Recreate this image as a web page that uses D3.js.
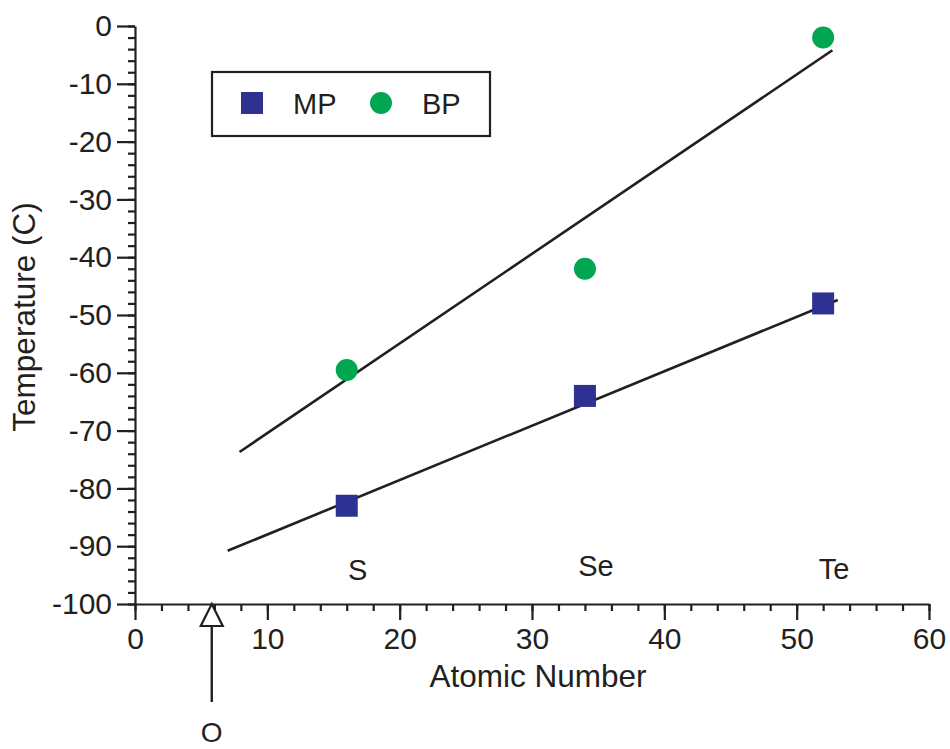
<!DOCTYPE html>
<html>
<head>
<meta charset="utf-8">
<script src="https://cdn.jsdelivr.net/npm/d3@7"></script>
<style>
    body { margin: 0; background: #fff; }
    svg text { font-family: "Liberation Sans", Arial, Helvetica, sans-serif; fill: #231f20; }
    .axis path, .axis line { stroke: #231f20; stroke-width: 2.2; }
    .axis text { font-size: 30px; }
</style>
</head>
<body>
<div id="chart"></div>
<script>
// values
const elements = ['S', 'Se', 'Te'];
const atomicNumbers = [16, 34, 52];
const meltingPoints = [-83, -64, -48];
const boilingPoints = [-59.5, -42, -2];
// fitted lines, end points as drawn
const mpFit = [{ x: 7, y: -90.8 }, { x: 53.1, y: -47.4 }];
const bpFit = [{ x: 7.9, y: -73.7 }, { x: 52.7, y: -4.2 }];
const xTicks = [0, 10, 20, 30, 40, 50, 60];
const yTicks = [0, -10, -20, -30, -40, -50, -60, -70, -80, -90, -100];
const labelLevel = [-95.8, -95.1, -95.6];
const oxygenAt = 5.8;

const width = 950, height = 749;
const blue = '#2e3192', green = '#00a650', ink = '#231f20';

var svg = d3.select('#chart')
    .append('svg')
    .attr('width', width)
    .attr('height', height);

var xScale = d3.scaleLinear()
    .domain([0, 60])
    .range([135, 929]);

var yScale = d3.scaleLinear()
    .domain([-100, 0])
    .range([604, 26]);

// plain hyphen, not the unicode minus d3 uses
var plain = function (d) { return String(d) };

// minor ticks every 2 units
svg.append('g')
    .attr('class', 'axis')
    .attr('transform', 'translate(0,604)')
    .call(d3.axisBottom(xScale).tickValues(d3.range(0, 61, 2)).tickSize(7).tickFormat(''))
    .select('.domain').remove();

svg.append('g')
    .attr('class', 'axis')
    .attr('transform', 'translate(135,0)')
    .call(d3.axisLeft(yScale).tickValues(d3.range(-100, 1, 2)).tickSize(7).tickFormat(''))
    .select('.domain').remove();

// major ticks with labels
svg.append('g')
    .attr('class', 'axis')
    .attr('transform', 'translate(0,604)')
    .call(d3.axisBottom(xScale).tickValues(xTicks).tickSize(16).tickSizeOuter(0).tickPadding(8).tickFormat(plain));

svg.append('g')
    .attr('class', 'axis')
    .attr('transform', 'translate(135,0)')
    .call(d3.axisLeft(yScale).tickValues(yTicks).tickSize(18).tickSizeOuter(0).tickPadding(5).tickFormat(plain));

// axis titles
svg.append('text')
    .attr('x', 538)
    .attr('y', 687)
    .attr('text-anchor', 'middle')
    .style('font-size', '31.5px')
    .text('Atomic Number');

svg.append('text')
    .attr('transform', 'translate(35,317) rotate(-90)')
    .attr('text-anchor', 'middle')
    .style('font-size', '31.5px')
    .text('Temperature (C)');

// fit lines
var line = d3.line()
    .x(function (d) { return xScale(d.x) })
    .y(function (d) { return yScale(d.y) });

[mpFit, bpFit].forEach(function (fit) {
    svg.append('path')
        .datum(fit)
        .attr('fill', 'none')
        .attr('stroke', ink)
        .attr('stroke-width', 2.6)
        .attr('d', line);
});

// melting points
svg.selectAll('.mp')
    .data(atomicNumbers)
    .enter().append('rect')
    .attr('class', 'mp')
    .attr('x', function (d) { return xScale(d) - 11 })
    .attr('y', function (d, i) { return yScale(meltingPoints[i]) - 11 })
    .attr('width', 22)
    .attr('height', 22)
    .attr('fill', blue);

// boiling points
svg.selectAll('.bp')
    .data(atomicNumbers)
    .enter().append('circle')
    .attr('class', 'bp')
    .attr('cx', function (d) { return xScale(d) })
    .attr('cy', function (d, i) { return yScale(boilingPoints[i]) })
    .attr('r', 11)
    .attr('fill', green);

// element labels
svg.selectAll('.el')
    .data(elements)
    .enter().append('text')
    .attr('class', 'el')
    .attr('x', function (d, i) { return xScale(atomicNumbers[i]) + 11 })
    .attr('y', function (d, i) { return yScale(labelLevel[i]) })
    .attr('text-anchor', 'middle')
    .style('font-size', '29px')
    .text(function (d) { return d });

// oxygen arrow
var ox = xScale(oxygenAt);
svg.append('path')
    .attr('d', 'M' + ox + ',604 L' + (ox - 11) + ',626 L' + (ox + 11) + ',626 Z')
    .attr('fill', '#fff')
    .attr('stroke', ink)
    .attr('stroke-width', 2.2);
svg.append('line')
    .attr('x1', ox).attr('x2', ox)
    .attr('y1', 626).attr('y2', 702)
    .attr('stroke', ink)
    .attr('stroke-width', 2.4);
svg.append('text')
    .attr('x', ox)
    .attr('y', 742)
    .attr('text-anchor', 'middle')
    .style('font-size', '28px')
    .text('O');

// legend
var legend = svg.append('g');
legend.append('rect')
    .attr('x', 212).attr('y', 72)
    .attr('width', 278).attr('height', 64)
    .attr('fill', '#fff')
    .attr('stroke', ink)
    .attr('stroke-width', 2.2);
legend.append('rect')
    .attr('x', 241).attr('y', 92)
    .attr('width', 22).attr('height', 22)
    .attr('fill', blue);
legend.append('text')
    .attr('x', 293).attr('y', 114)
    .style('font-size', '29px')
    .text('MP');
legend.append('circle')
    .attr('cx', 381).attr('cy', 103)
    .attr('r', 11)
    .attr('fill', green);
legend.append('text')
    .attr('x', 422).attr('y', 114)
    .style('font-size', '29px')
    .text('BP');
</script>
</body>
</html>
